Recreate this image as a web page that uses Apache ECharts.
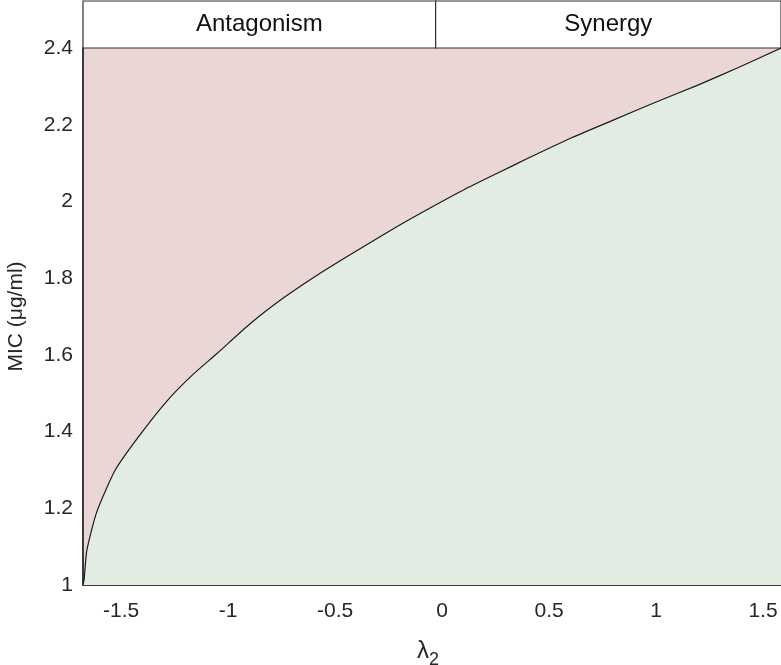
<!DOCTYPE html>
<html>
<head>
    <meta charset="utf-8" />
    <title>MIC vs lambda2</title>
    <script src="https://cdn.jsdelivr.net/npm/echarts@6/dist/echarts.min.js"></script>
    <style>
        html, body { margin: 0; padding: 0; background: #fff; }
        #chart1 { width: 781px; height: 665px; }
    </style>
</head>
<body>
    <div id="chart1"></div>
    <script type="text/javascript">
        // curve: lambda_2 vs MIC
        var lambda2 = [-1.678, -1.673, -1.660, -1.614, -1.528, -1.419, -1.287, -1.170, -1.053,
                       -0.897, -0.742, -0.586, -0.430, -0.212, -0.056, 0.100, 0.256, 0.411,
                       0.606, 0.800, 0.995, 1.190, 1.385, 1.584];
        var mic = [1.000, 1.013, 1.090, 1.190, 1.299, 1.386, 1.479, 1.546, 1.603,
                   1.681, 1.748, 1.807, 1.861, 1.934, 1.983, 2.030, 2.073, 2.115,
                   2.166, 2.212, 2.258, 2.302, 2.349, 2.400];
        var xTicks = [-1.5, -1, -0.5, 0, 0.5, 1, 1.5];
        var xMin = -1.678, xMax = 1.584;
        var yMin = 1, yMax = 2.4;
        // header strip
        var regionNames = ['Antagonism', 'Synergy'];
        var dividerX = -0.03;

        var curve = lambda2.map(function (v, i) { return [v, mic[i]]; });
        var font = '"Liberation Sans", Arial, Helvetica, sans-serif';

        var myChart1 = echarts.init(document.getElementById('chart1'));
        var option = {
            backgroundColor: '#fff',
            animation: false,
            grid: [
                { left: 83, right: 0, top: 48, bottom: 80, outerBoundsMode: 'none', containLabel: false,
                  show: true, backgroundColor: '#ebd6d6', borderWidth: 0 },
                { left: 83, right: 0, top: 1, height: 47, outerBoundsMode: 'none', containLabel: false }
            ],
            xAxis: [
                {
                    type: 'value', gridIndex: 0, min: xMin, max: xMax,
                    name: '{l|λ}{s|2}', nameLocation: 'middle', nameGap: 48,
                    nameTextStyle: {
                        padding: [0, 8, 0, 0],
                        rich: {
                            l: { fontFamily: font, fontSize: 24, color: '#262626' },
                            s: { fontFamily: font, fontSize: 18, color: '#262626', verticalAlign: 'bottom', padding: [18, 0, 0, 0] }
                        }
                    },
                    axisLine: { show: true, onZero: false, lineStyle: { color: '#3a3a3a', width: 2 } },
                    axisTick: { show: false },
                    splitLine: { show: false },
                    axisLabel: { customValues: xTicks, margin: 16, fontFamily: font, fontSize: 21, color: '#262626' }
                },
                { type: 'value', gridIndex: 1, min: xMin, max: xMax, show: false }
            ],
            yAxis: [
                {
                    type: 'value', gridIndex: 0, min: yMin, max: yMax, interval: 0.2,
                    name: 'MIC (μg/ml)', nameLocation: 'middle', nameGap: 56,
                    nameTextStyle: { fontFamily: font, fontSize: 21, color: '#262626' },
                    axisLine: { show: true, onZero: false, lineStyle: { color: '#3a3a3a', width: 2 } },
                    axisTick: { show: false },
                    splitLine: { show: false },
                    axisLabel: { margin: 10, fontFamily: font, fontSize: 21, color: '#262626' }
                },
                { type: 'value', gridIndex: 1, min: 0, max: 1, show: false }
            ],
            series: [
                {
                    type: 'line',
                    xAxisIndex: 0, yAxisIndex: 0,
                    data: curve,
                    showSymbol: false,
                    smooth: 0.2,
                    lineStyle: { color: '#1a1a1a', width: 1.2 },
                    areaStyle: { color: '#e2ece3', opacity: 1, origin: 'start' }
                },
                {
                    type: 'line',
                    xAxisIndex: 1, yAxisIndex: 1,
                    data: [[xMin, 0]],
                    showSymbol: false,
                    lineStyle: { opacity: 0 },
                    markArea: {
                        silent: true,
                        itemStyle: { color: '#fff', borderColor: '#303030', borderWidth: 1.2 },
                        label: { show: true, position: 'inside', fontFamily: font, fontSize: 24, color: '#111' },
                        data: [
                            [{ name: regionNames[0], xAxis: xMin }, { xAxis: dividerX }],
                            [{ name: regionNames[1], xAxis: dividerX }, { xAxis: xMax }]
                        ]
                    }
                }
            ]
        };
        myChart1.setOption(option);
    </script>
</body>
</html>
